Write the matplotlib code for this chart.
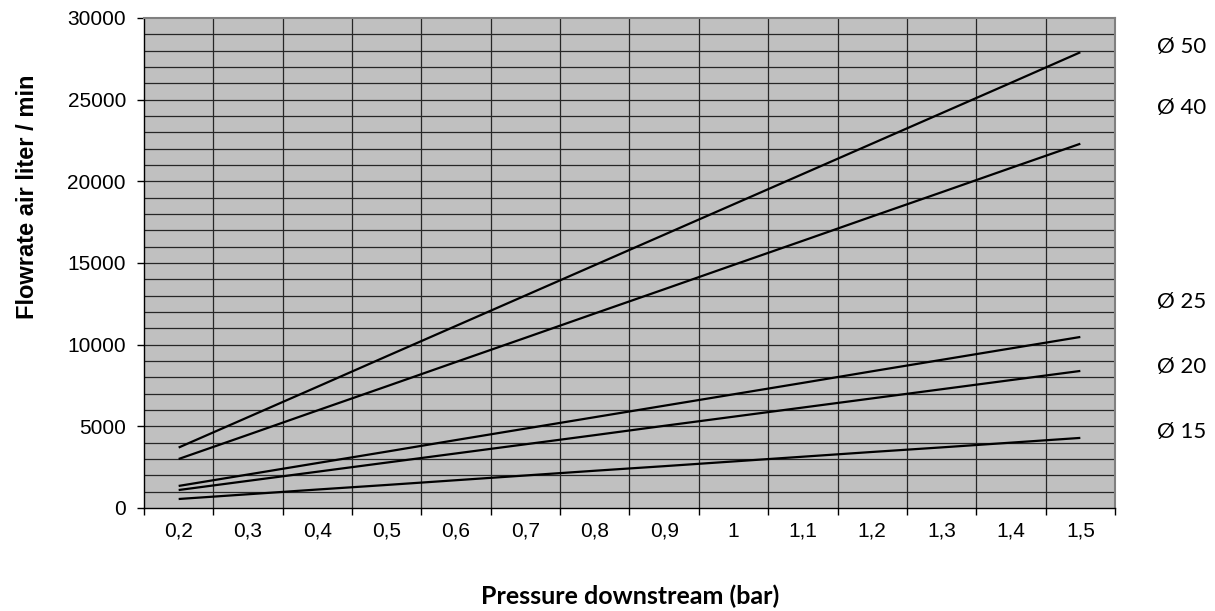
import matplotlib
matplotlib.use("Agg")
import matplotlib.pyplot as plt
import matplotlib.transforms as mtransforms
import numpy as np

pressure_labels = ["0,2", "0,3", "0,4", "0,5", "0,6", "0,7", "0,8",
                   "0,9", "1", "1,1", "1,2", "1,3", "1,4", "1,5"]

d50 = [3700, 5560, 7420, 9290, 11150, 13010, 14870,
       16730, 18590, 20450, 22310, 24170, 26030, 27900]
d40 = [3000, 4480, 5970, 7450, 8940, 10420, 11910,
       13390, 14880, 16360, 17850, 19330, 20820, 22300]
d25 = [1350, 2050, 2750, 3450, 4160, 4860, 5560,
       6260, 6960, 7660, 8370, 9070, 9770, 10470]
d20 = [1100, 1660, 2220, 2780, 3340, 3900, 4460,
       5030, 5590, 6150, 6710, 7270, 7830, 8390]
d15 = [550, 840, 1130, 1410, 1700, 1990, 2280,
       2560, 2850, 3140, 3430, 3710, 4000, 4290]

series = [d50, d40, d25, d20, d15]
# right-hand labels and where they sit (data y)
tags = ["Ø 50", "Ø 40", "Ø 25", "Ø 20", "Ø 15"]
tag_y = [28230, 24490, 12610, 8630, 4650]

fig = plt.figure(figsize=(12.15, 6.11), dpi=100)
ax = fig.add_axes([0.1185, 0.1686, 0.7992, 0.802])
ax.set_facecolor("#c0c0c0")

n = len(pressure_labels)
x = np.arange(n)
for s in series:
    ax.plot(x, s, color="black", lw=1.6, solid_capstyle="butt", zorder=3)

ax.set_xlim(-0.5, n - 0.5)
ax.set_ylim(0, 30000)

# grid: every 1000 horizontally, category boundaries vertically
for yv in range(1000, 30000, 1000):
    ax.axhline(yv, color="#262626", lw=0.9, zorder=1)
for xv in np.arange(0.5, n - 0.5, 1):
    ax.axvline(xv, color="#262626", lw=0.9, zorder=1)

ax.set_yticks(range(0, 30001, 5000))
ax.set_yticklabels([str(v) for v in range(0, 30001, 5000)],
                   fontsize=15, family="Liberation Sans")
ax.set_xticks(np.arange(-0.5, n, 1))
ax.set_xticklabels([])
ax.set_xticks(x, minor=True)
ax.set_xticklabels(pressure_labels, minor=True, fontsize=15,
                   family="Liberation Sans")
ax.tick_params(axis="x", which="minor", length=0, pad=10)
ax.tick_params(axis="x", which="major", length=5, width=1, color="black")
ax.tick_params(axis="y", length=5, width=1, color="black", pad=8)

for side in ["top", "right"]:
    ax.spines[side].set_color("#808080")
    ax.spines[side].set_linewidth(1.5)
for side in ["left", "bottom"]:
    ax.spines[side].set_color("black")
    ax.spines[side].set_linewidth(1.0)

fig.text(28 / 1215, 1 - 197 / 611, "Flowrate air liter / min", rotation=90,
         fontsize=17, fontweight="bold", family="Liberation Sans",
         ha="center", va="center")
fig.text(630 / 1215, 1 - 604 / 611, "Pressure downstream (bar)",
         fontsize=18, fontweight="bold", family="Lato",
         ha="center", va="baseline")

trans = mtransforms.blended_transform_factory(ax.transAxes, ax.transData)
for t, yv in zip(tags, tag_y):
    ax.text(1.043, yv, t, transform=trans, fontsize=16, family="Lato",
            va="center", ha="left")

fig.savefig("out.png", dpi=100)
